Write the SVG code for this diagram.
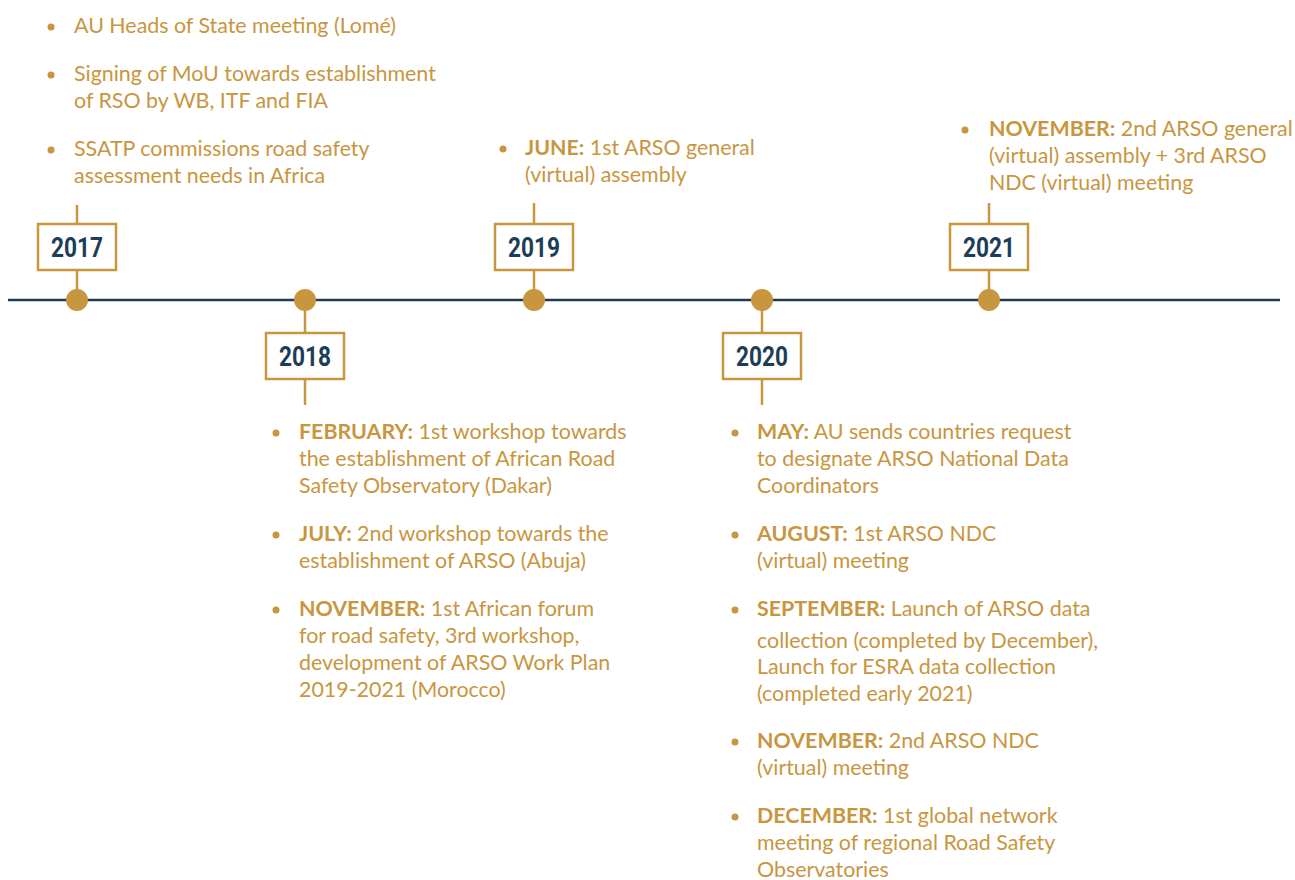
<svg xmlns="http://www.w3.org/2000/svg" width="1295" height="880" viewBox="0 0 1295 880">
<style>
.t{font-family:Lato,"Open Sans","Liberation Sans",sans-serif;font-size:21.4px;fill:#c8963e}
.b{font-weight:bold}
.yr{font-family:Roboto,Lato,"Liberation Sans",sans-serif;font-size:27px;font-weight:bold;fill:#1d3d57;text-anchor:middle}
.box{fill:#fff;stroke:#c8963e;stroke-width:2.5}
.tick{stroke:#c8963e;stroke-width:2.5}
.dot{fill:#c8963e}
.bul{fill:#c8963e}
</style>
<rect width="1295" height="880" fill="#fff"/>
<g id="connectors">
<line x1="8" y1="300" x2="1280" y2="300" stroke="#1d3d57" stroke-width="2.5"/>
<line class="tick" x1="77" y1="205" x2="77" y2="300"/>
<line class="tick" x1="305" y1="300" x2="305" y2="405"/>
<line class="tick" x1="534" y1="203" x2="534" y2="300"/>
<line class="tick" x1="762" y1="300" x2="762" y2="405"/>
<line class="tick" x1="989" y1="203" x2="989" y2="300"/>
</g>
<g id="y2017">
<circle class="dot" cx="77" cy="300" r="11"/>
<rect class="box" x="38" y="224" width="78" height="46"/>
<text class="yr" x="77" y="257" textLength="52" lengthAdjust="spacingAndGlyphs">2017</text>
<circle class="bul" cx="51" cy="27" r="3.5"/>
<text class="t" x="74" y="33">AU Heads of State meeting (Lomé)</text>
<circle class="bul" cx="51" cy="75" r="3.5"/>
<text class="t" x="74" y="81">Signing of MoU towards establishment</text>
<text class="t" x="74" y="108">of RSO by WB, ITF and FIA</text>
<circle class="bul" cx="51" cy="150" r="3.5"/>
<text class="t" x="74" y="156">SSATP commissions road safety</text>
<text class="t" x="74" y="183">assessment needs in Africa</text>
</g>
<g id="y2018">
<circle class="dot" cx="305" cy="300" r="11"/>
<rect class="box" x="266" y="333" width="78" height="46"/>
<text class="yr" x="305" y="366" textLength="52" lengthAdjust="spacingAndGlyphs">2018</text>
<circle class="bul" cx="276" cy="433" r="3.5"/>
<text class="t" x="299" y="439"><tspan class="b">FEBRUARY:</tspan> 1st workshop towards</text>
<text class="t" x="299" y="466">the establishment of African Road</text>
<text class="t" x="299" y="493">Safety Observatory (Dakar)</text>
<circle class="bul" cx="276" cy="535" r="3.5"/>
<text class="t" x="299" y="541"><tspan class="b">JULY:</tspan> 2nd workshop towards the</text>
<text class="t" x="299" y="568">establishment of ARSO (Abuja)</text>
<circle class="bul" cx="276" cy="610" r="3.5"/>
<text class="t" x="299" y="616"><tspan class="b">NOVEMBER:</tspan> 1st African forum</text>
<text class="t" x="299" y="643">for road safety, 3rd workshop,</text>
<text class="t" x="299" y="670">development of ARSO Work Plan</text>
<text class="t" x="299" y="697">2019-2021 (Morocco)</text>
</g>
<g id="y2019">
<circle class="dot" cx="534" cy="300" r="11"/>
<rect class="box" x="495" y="224" width="78" height="46"/>
<text class="yr" x="534" y="257" textLength="52" lengthAdjust="spacingAndGlyphs">2019</text>
<circle class="bul" cx="503" cy="149" r="3.5"/>
<text class="t" x="525" y="155"><tspan class="b">JUNE:</tspan> 1st ARSO general</text>
<text class="t" x="525" y="182">(virtual) assembly</text>
</g>
<g id="y2020">
<circle class="dot" cx="762" cy="300" r="11"/>
<rect class="box" x="723" y="333" width="78" height="46"/>
<text class="yr" x="762" y="366" textLength="52" lengthAdjust="spacingAndGlyphs">2020</text>
<circle class="bul" cx="735" cy="433" r="3.5"/>
<text class="t" x="757" y="439"><tspan class="b">MAY:</tspan> AU sends countries request</text>
<text class="t" x="757" y="466">to designate ARSO National Data</text>
<text class="t" x="757" y="493">Coordinators</text>
<circle class="bul" cx="735" cy="535" r="3.5"/>
<text class="t" x="757" y="541"><tspan class="b">AUGUST:</tspan> 1st ARSO NDC</text>
<text class="t" x="757" y="568">(virtual) meeting</text>
<circle class="bul" cx="735" cy="610" r="3.5"/>
<text class="t" x="757" y="616"><tspan class="b">SEPTEMBER:</tspan> Launch of ARSO data</text>
<text class="t" x="757" y="648">collection (completed by December),</text>
<text class="t" x="757" y="674">Launch for ESRA data collection</text>
<text class="t" x="757" y="701">(completed early 2021)</text>
<circle class="bul" cx="735" cy="742" r="3.5"/>
<text class="t" x="757" y="748"><tspan class="b">NOVEMBER:</tspan> 2nd ARSO NDC</text>
<text class="t" x="757" y="775">(virtual) meeting</text>
<circle class="bul" cx="735" cy="817" r="3.5"/>
<text class="t" x="757" y="823"><tspan class="b">DECEMBER:</tspan> 1st global network</text>
<text class="t" x="757" y="850">meeting of regional Road Safety</text>
<text class="t" x="757" y="877">Observatories</text>
</g>
<g id="y2021">
<circle class="dot" cx="989" cy="300" r="11"/>
<rect class="box" x="950" y="224" width="78" height="46"/>
<text class="yr" x="989" y="257" textLength="52" lengthAdjust="spacingAndGlyphs">2021</text>
<circle class="bul" cx="965" cy="130" r="3.5"/>
<text class="t" x="989" y="136"><tspan class="b">NOVEMBER:</tspan> 2nd ARSO general</text>
<text class="t" x="989" y="163">(virtual) assembly + 3rd ARSO</text>
<text class="t" x="989" y="190">NDC (virtual) meeting</text>
</g>
</svg>
